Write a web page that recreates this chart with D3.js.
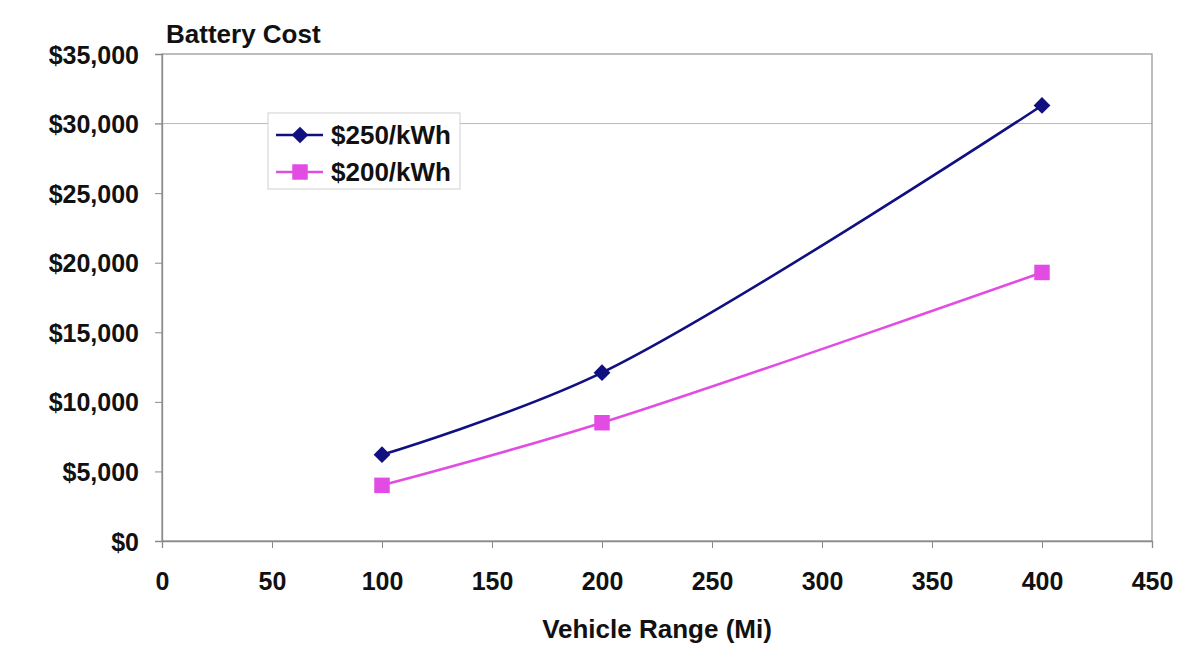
<!DOCTYPE html>
<html><head><meta charset="utf-8">
<script src="https://cdn.jsdelivr.net/npm/d3@7"></script>
<style>body{margin:0;background:#fff;} text{font-family:"Liberation Sans",Arial,sans-serif;font-weight:bold;}</style>
</head><body><svg id="c" width="1184" height="652"></svg>
<script>
const ranges = [100, 200, 400];
const cost250 = [6200, 12100, 31300];
const cost200 = [4000, 8500, 19300];
const seriesNames = ["$250/kWh", "$200/kWh"];
const xTicks = [0, 50, 100, 150, 200, 250, 300, 350, 400, 450];
const yTicks = [0, 5000, 10000, 15000, 20000, 25000, 30000, 35000];
const gridTicks = [30000];

const svg = d3.select("#c");
const L = 162, R = 1152, T = 54, B = 541;
const x = d3.scaleLinear().domain([0, 450]).range([L, R]);
const y = d3.scaleLinear().domain([0, 35000]).range([B, T]);

svg.append("rect").attr("width",1184).attr("height",652).attr("fill","#fff");

svg.selectAll(".grid").data(gridTicks).enter().append("line")
  .attr("x1", L-7).attr("x2", R).attr("y1", d=>y(d)).attr("y2", d=>y(d))
  .attr("stroke", "#b8b8b8").attr("stroke-width", 1);

svg.append("rect").attr("x", L).attr("y", T).attr("width", R-L).attr("height", B-T)
  .attr("fill","none").attr("stroke","#9a9a9a").attr("stroke-width",1.3);

const fmt = d => "$" + d3.format(",")(d);
const yAxis = svg.append("g").attr("transform", `translate(${L},0)`)
  .call(d3.axisLeft(y).tickValues(yTicks).tickFormat(fmt).tickSize(7).tickPadding(16));
const xAxis = svg.append("g").attr("transform", `translate(0,${B})`)
  .call(d3.axisBottom(x).tickValues(xTicks).tickSize(7).tickPadding(24));
[yAxis, xAxis].forEach(g => {
  g.select(".domain").attr("stroke","#8a8a8a").attr("stroke-width",1.3);
  g.selectAll(".tick line").attr("stroke","#8a8a8a");
  g.selectAll("text").attr("font-size", 25).attr("fill","#111")
   .attr("font-family",'"Liberation Sans",Arial,sans-serif').attr("font-weight","bold");
});
yAxis.selectAll("text").attr("dy","0.36em");
xAxis.selectAll("text").attr("dy","0.72em");

svg.append("text").attr("x", 166).attr("y", 43).attr("font-size", 26).attr("fill","#111").text("Battery Cost");
svg.append("text").attr("x", 657).attr("y", 638).attr("text-anchor","middle")
  .attr("font-size", 26).attr("fill","#111").text("Vehicle Range (Mi)");

const series = [
  {vals: cost250, color: "#101080", shape: d3.symbolSquare, size: 140, rot: 45, name: seriesNames[0]},
  {vals: cost200, color: "#e34ce3", shape: d3.symbolSquare, size: 240, rot: 0, name: seriesNames[1]}
];
const line = d3.line().x(d=>x(d[0])).y(d=>y(d[1])).curve(d3.curveCatmullRom.alpha(0.5));
series.forEach(s => {
  const pts = ranges.map((r,i)=>[r, s.vals[i]]);
  svg.append("path").attr("d", line(pts)).attr("fill","none").attr("stroke", s.color).attr("stroke-width", 2.6);
  svg.selectAll(null).data(pts).enter().append("path")
    .attr("d", d3.symbol().type(s.shape).size(s.size))
    .attr("transform", d=>`translate(${x(d[0])},${y(d[1])}) rotate(${s.rot})`)
    .attr("fill", s.color);
});

const lg = svg.append("g");
lg.append("rect").attr("x", 268).attr("y", 113).attr("width", 192).attr("height", 76)
  .attr("fill","#fff").attr("stroke","#d0d0d0").attr("stroke-width",1);
series.forEach((s,i) => {
  const cy = 135 + i*37;
  lg.append("line").attr("x1",276).attr("x2",323).attr("y1",cy).attr("y2",cy).attr("stroke",s.color).attr("stroke-width",2.6);
  lg.append("path").attr("d", d3.symbol().type(s.shape).size(s.size)).attr("transform",`translate(300,${cy}) rotate(${s.rot})`).attr("fill",s.color);
  lg.append("text").attr("x",331).attr("y",cy).attr("dy","0.36em").attr("font-size",26).attr("fill","#111").text(s.name);
});
</script></body></html>
